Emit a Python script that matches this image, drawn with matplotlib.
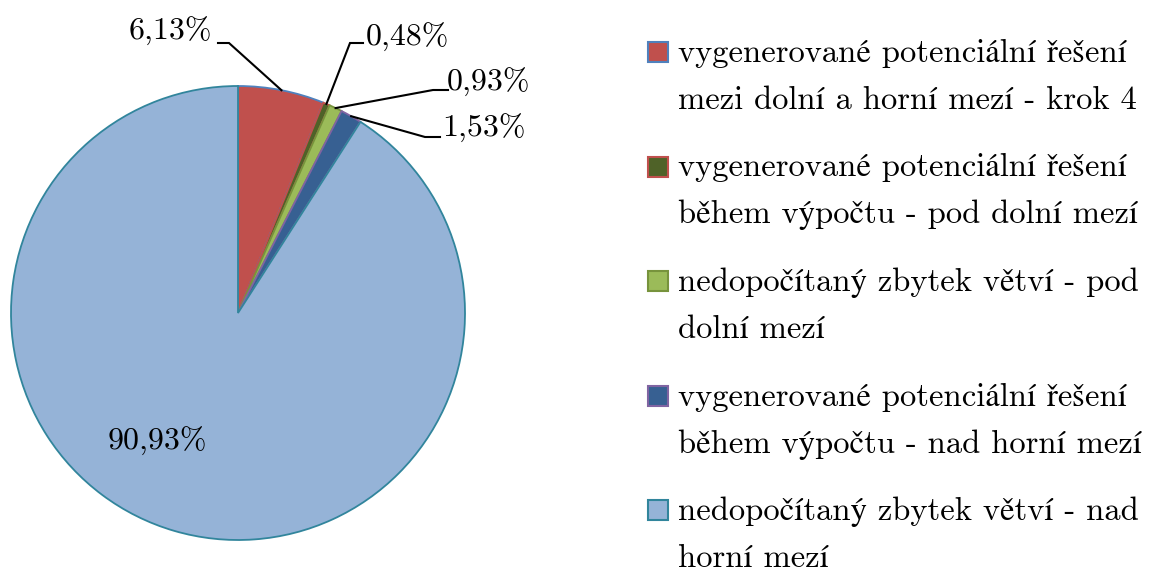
import numpy as np
import matplotlib
matplotlib.use("Agg")
import matplotlib.pyplot as plt
from matplotlib.patches import Rectangle

# data ------------------------------------------------------------------------
shares = [6.13, 0.48, 0.93, 1.53, 90.93]
share_labels = ["6,13%", "0,48%", "0,93%", "1,53%", "90,93%"]
categories = [
    "vygenerované potenciální řešení\nmezi dolní a horní mezí - krok 4",
    "vygenerované potenciální řešení\nběhem výpočtu - pod dolní mezí",
    "nedopočítaný zbytek větví - pod\ndolní mezí",
    "vygenerované potenciální řešení\nběhem výpočtu - nad horní mezí",
    "nedopočítaný zbytek větví - nad\nhorní mezí",
]
face_colors = ["#c0504d", "#4f6228", "#9bbb59", "#376092", "#95b3d7"]
edge_colors = ["#4f81bd", "#c0504d", "#77933c", "#8064a2", "#31859c"]

plt.rcParams["font.family"] = ["cmr10", "STIXGeneral"]
plt.rcParams["font.size"] = 23

W, H = 1153, 575
fig = plt.figure(figsize=(W / 100, H / 100), dpi=100)

# pie centre (238, 313) px, radius 227 px
cx, cy, r = 238, 313, 227
ax = fig.add_axes([(cx - r) / W, (H - cy - r) / H, 2 * r / W, 2 * r / H])
wedges, _ = ax.pie(shares, startangle=90, counterclock=False, radius=1,
                   colors=face_colors,
                   wedgeprops=dict(linewidth=1.3))
for w, ec in zip(wedges, edge_colors):
    w.set_edgecolor(ec)
ax.set_xlim(-1, 1)
ax.set_ylim(-1, 1)
ax.set_aspect("equal")
ax.axis("off")


def px(x, y):
    # pixel -> data coordinates of the pie axes
    return (x - cx) / r, (cy - y) / r


# outside labels: (text x, baseline y, ha, shoulder start x, shoulder end x, shoulder y) in px
label_layout = [
    (212, 40, "right", 218, 229, 43),
    (366, 46, "left", 363, 350, 43),
    (447, 91, "left", 448, 433, 90),
    (442, 137, "left", 440, 425, 137),
]
for i, (tx, ty, ha, s0, s1, sy) in enumerate(label_layout):
    w = wedges[i]
    mid = np.deg2rad((w.theta1 + w.theta2) / 2)
    ex, ey = np.cos(mid), np.sin(mid)
    ax.text(*px(tx, ty), share_labels[i], ha=ha, va="baseline", clip_on=False)
    a = px(s0, sy)
    b = px(s1, sy)
    ax.plot([a[0], b[0], ex], [a[1], b[1], ey], color="black", lw=1.5,
            clip_on=False, solid_joinstyle="miter")

ax.text(*px(157, 450), share_labels[4], ha="center", va="baseline")

# legend, drawn by hand so the swatch sits on the first line
entry_top = 62      # baseline of first line, px
entry_step = 114.5
line_step = 47
for k, (lab, fc, ec) in enumerate(zip(categories, face_colors, edge_colors)):
    base = entry_top + k * entry_step
    fig.patches.append(Rectangle((648 / W, (H - base) / H), 20 / W, 20 / H,
                                 facecolor=fc, edgecolor=ec, linewidth=1.5,
                                 transform=fig.transFigure, figure=fig))
    for j, line in enumerate(lab.split("\n")):
        fig.text(678 / W, (H - base - j * line_step) / H, line,
                 ha="left", va="baseline", fontsize=23.5)

fig.savefig("out.png", dpi=100)
